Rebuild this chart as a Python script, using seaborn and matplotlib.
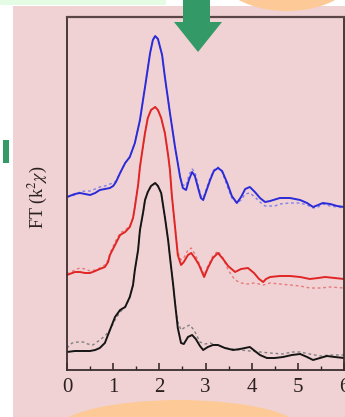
import matplotlib
matplotlib.use("Agg")
from matplotlib import pyplot as plt
from matplotlib.patches import Rectangle, Ellipse, Polygon
from matplotlib.ticker import MultipleLocator
import seaborn as sns

# R (Angstrom) and FT magnitude (arbitrary units)
r_blue = [0.00, 0.17, 0.28, 0.39, 0.50, 0.61, 0.71, 0.82, 0.93, 1.00, 1.06, 1.15, 1.26, 1.36, 1.47, 1.58, 1.69, 1.80, 1.86, 1.91,
          1.97, 2.06, 2.12, 2.23, 2.34, 2.45, 2.51, 2.58, 2.64, 2.71, 2.77, 2.84, 2.90, 2.95, 3.01, 3.10, 3.18, 3.27, 3.36, 3.47,
          3.57, 3.68, 3.77, 3.86, 3.96, 4.07, 4.18, 4.29, 4.40, 4.61, 4.83, 5.05, 5.20, 5.33, 5.44, 5.54, 5.70, 5.85, 6.00]
ft_blue = [17.3, 17.6, 17.7, 17.6, 17.5, 17.7, 18.0, 18.1, 18.2, 18.4, 18.8, 19.7, 20.7, 21.3, 22.7, 25.0, 28.3, 31.7, 33.0, 33.4,
           33.1, 31.5, 29.3, 25.7, 22.3, 19.3, 18.2, 18.0, 19.0, 19.8, 19.4, 18.2, 17.2, 17.0, 17.8, 19.0, 19.9, 20.2, 19.9, 18.7,
           17.4, 16.7, 17.3, 18.1, 18.3, 17.8, 17.2, 16.8, 16.9, 17.2, 17.2, 17.0, 16.7, 16.3, 16.5, 16.7, 16.6, 16.4, 16.3]

r_blue_fit = [0.00, 0.17, 0.28, 0.39, 0.50, 0.61, 0.71, 0.82, 0.93, 1.00, 1.06, 1.15, 1.26, 1.36, 1.47, 1.58, 1.69, 1.80, 1.86, 1.91,
              1.97, 2.06, 2.12, 2.23, 2.34, 2.45, 2.51, 2.58, 2.64, 2.71, 2.77, 2.84, 2.90, 2.95, 3.01, 3.10, 3.18, 3.27, 3.36, 3.47,
              3.57, 3.68, 3.77, 3.86, 3.96, 4.07, 4.18, 4.29, 4.40, 4.50, 4.61, 4.83, 5.05, 5.20, 5.33, 5.44, 5.54, 5.70, 5.85, 6.00]
ft_blue_fit = [17.3, 17.5, 17.8, 17.9, 17.9, 18.1, 18.3, 18.4, 18.6, 18.7, 18.9, 19.7, 20.7, 21.3, 22.7, 25.0, 28.3, 31.7, 33.0, 33.4,
               33.1, 31.5, 29.3, 25.7, 22.3, 19.3, 18.5, 18.4, 19.5, 20.1, 19.8, 18.5, 17.4, 17.2, 18.0, 19.2, 20.0, 20.3, 19.8, 18.4,
               17.2, 16.7, 17.0, 17.6, 17.7, 17.3, 16.8, 16.4, 16.4, 16.4, 16.6, 16.7, 16.7, 16.5, 16.2, 16.3, 16.6, 16.4, 16.3, 16.2]

r_red = [0.00, 0.17, 0.28, 0.39, 0.50, 0.61, 0.71, 0.82, 0.89, 0.93, 1.04, 1.15, 1.26, 1.36, 1.43, 1.47, 1.54, 1.58, 1.65, 1.69,
         1.75, 1.82, 1.91, 1.97, 2.04, 2.12, 2.19, 2.23, 2.27, 2.34, 2.40, 2.47, 2.53, 2.62, 2.69, 2.77, 2.86, 2.97, 3.05, 3.16,
         3.27, 3.38, 3.49, 3.64, 3.77, 3.92, 4.05, 4.16, 4.25, 4.31, 4.40, 4.61, 4.83, 5.05, 5.26, 5.44, 5.59, 5.80, 6.00]
ft_red = [9.5, 9.8, 9.8, 9.7, 9.7, 9.9, 10.1, 10.3, 10.8, 11.5, 12.5, 13.5, 13.8, 14.3, 15.2, 16.3, 18.5, 20.3, 22.5, 23.7,
          25.2, 26.0, 26.3, 26.0, 25.2, 23.7, 21.5, 20.0, 17.5, 14.3, 11.5, 10.5, 10.8, 11.5, 11.7, 11.2, 10.5, 9.3, 10.2, 11.2,
          11.7, 11.1, 10.4, 9.8, 10.1, 10.2, 9.7, 9.1, 8.8, 9.1, 9.3, 9.4, 9.4, 9.3, 9.1, 9.2, 9.3, 9.2, 9.1]

r_red_fit = [0.00, 0.17, 0.28, 0.39, 0.50, 0.61, 0.71, 0.82, 0.89, 0.93, 1.04, 1.15, 1.26, 1.36, 1.43, 1.47, 1.54, 1.58, 1.65, 1.69,
             1.75, 1.82, 1.91, 1.97, 2.04, 2.12, 2.19, 2.23, 2.27, 2.34, 2.40, 2.47, 2.53, 2.62, 2.69, 2.77, 2.86, 2.97, 3.05, 3.16,
             3.27, 3.38, 3.49, 3.64, 3.77, 3.92, 4.05, 4.16, 4.25, 4.40, 4.61, 4.83, 5.05, 5.26, 5.48, 5.70, 6.00]
ft_red_fit = [9.6, 10.0, 10.2, 10.1, 9.9, 10.0, 10.2, 10.5, 11.0, 11.7, 12.8, 13.7, 14.0, 14.4, 15.2, 16.3, 18.5, 20.3, 22.5, 23.7,
              25.2, 26.0, 26.3, 26.0, 25.2, 23.7, 21.5, 20.0, 17.5, 14.3, 11.8, 11.0, 11.2, 12.0, 12.2, 11.6, 10.7, 9.5, 10.4, 11.4,
              11.9, 11.2, 10.0, 9.0, 8.7, 8.6, 8.7, 8.6, 8.5, 8.7, 8.6, 8.5, 8.4, 8.2, 8.2, 8.3, 8.2]

r_black = [0.00, 0.17, 0.28, 0.50, 0.61, 0.71, 0.82, 0.93, 1.04, 1.15, 1.26, 1.36, 1.43, 1.47, 1.54, 1.58, 1.65, 1.69, 1.75, 1.82,
           1.91, 1.97, 2.04, 2.12, 2.19, 2.23, 2.30, 2.34, 2.40, 2.47, 2.53, 2.62, 2.71, 2.79, 2.88, 2.95, 3.05, 3.16, 3.27, 3.42,
           3.60, 3.75, 3.96, 4.07, 4.18, 4.33, 4.50, 4.68, 4.87, 5.05, 5.20, 5.33, 5.48, 5.63, 5.80, 6.00]
ft_black = [1.8, 1.9, 1.9, 1.9, 2.0, 2.2, 2.7, 4.0, 5.3, 6.0, 6.3, 7.3, 8.5, 10.0, 12.0, 14.0, 15.8, 17.0, 17.8, 18.4,
            18.7, 18.4, 17.7, 15.3, 13.0, 11.3, 8.5, 6.7, 4.2, 2.7, 2.6, 3.3, 3.5, 3.1, 2.4, 2.0, 2.3, 2.5, 2.5, 2.2,
            2.0, 2.1, 2.3, 1.9, 1.5, 1.2, 1.2, 1.3, 1.5, 1.6, 1.3, 1.0, 1.2, 1.4, 1.3, 1.2]

r_black_fit = [0.00, 0.11, 0.24, 0.35, 0.45, 0.56, 0.65, 0.71, 0.82, 0.93, 1.04, 1.15, 1.26, 1.36, 1.43, 1.47, 1.54, 1.58, 1.65, 1.69,
               1.75, 1.82, 1.91, 1.97, 2.04, 2.12, 2.19, 2.23, 2.30, 2.34, 2.40, 2.47, 2.56, 2.66, 2.75, 2.88, 2.99, 3.10, 3.25, 3.42,
               3.60, 3.75, 3.96, 4.18, 4.40, 4.68, 4.87, 5.05, 5.26, 5.48, 5.70, 6.00]
ft_black_fit = [2.2, 2.7, 2.8, 2.8, 2.6, 2.5, 2.8, 3.0, 3.4, 4.0, 5.0, 5.8, 6.3, 7.3, 8.5, 10.0, 12.0, 14.0, 15.8, 17.0,
                17.8, 18.4, 18.7, 18.4, 17.7, 15.3, 13.0, 11.3, 8.5, 6.7, 4.8, 4.0, 4.3, 4.5, 4.0, 2.8, 2.6, 2.7, 2.5, 2.2,
                2.1, 2.0, 1.9, 1.8, 1.7, 1.6, 1.8, 1.8, 1.6, 1.4, 1.5, 1.5]

x_ticks = [0, 1, 2, 3, 4, 5, 6]

PINK = "#f0d2d4"
sns.set_style("ticks")
plt.rcParams["font.family"] = ["Liberation Serif", "DejaVu Serif"]
plt.rcParams["mathtext.fontset"] = "stix"

fig = plt.figure(figsize=(3.45, 4.17), dpi=100, facecolor="white")
W, H = 345.0, 417.0

# slide decorations around the figure (kept below the axes)
fig.patches.append(Rectangle((13 / W, 0), 1 - 13 / W, 1 - 6 / H, transform=fig.transFigure,
                             facecolor=PINK, edgecolor="none", zorder=-3))
fig.patches.append(Rectangle((0, 1 - 5 / H), 166 / W, 5 / H, transform=fig.transFigure,
                             facecolor="#e4fbe4", edgecolor="none", zorder=-2))
fig.patches.append(Ellipse((287 / W, 1 + 29 / H), 140 / W, 80 / H, transform=fig.transFigure,
                           facecolor="#fdca97", edgecolor="none", zorder=-2))
fig.patches.append(Ellipse((179 / W, -15 / H), 250 / W, 64 / H, transform=fig.transFigure,
                           facecolor="#fdca97", edgecolor="none", zorder=-2))
fig.patches.append(Rectangle((3 / W, 1 - 163 / H), 6 / W, 23 / H, transform=fig.transFigure,
                             facecolor="#339966", edgecolor="none", zorder=-2))

ax = fig.add_axes([67 / W, 47 / H, 277 / W, 353 / H])
ax.set_facecolor(PINK)

sns.lineplot(x=r_blue_fit, y=ft_blue_fit, color="#8080e6", linestyle=(0, (2, 2)), linewidth=1.0, sort=False, ax=ax)
sns.lineplot(x=r_blue, y=ft_blue, color="#2b2bd8", linewidth=1.4, sort=False, ax=ax)
sns.lineplot(x=r_red_fit, y=ft_red_fit, color="#e67a7a", linestyle=(0, (2, 2)), linewidth=1.0, sort=False, ax=ax)
sns.lineplot(x=r_red, y=ft_red, color="#e02525", linewidth=1.4, sort=False, ax=ax)
sns.lineplot(x=r_black_fit, y=ft_black_fit, color="#808080", linestyle=(0, (2, 2)), linewidth=1.0, sort=False, ax=ax)
sns.lineplot(x=r_black, y=ft_black, color="#151515", linewidth=1.4, sort=False, ax=ax)

ax.set_xlim(0, 6)
ax.set_ylim(0, 35.3)
ax.set_xticks(x_ticks)
ax.xaxis.set_minor_locator(MultipleLocator(0.5))
ax.set_yticks([])
ax.tick_params(axis="x", which="major", direction="in", length=5, width=1.1, pad=6,
               labelsize=15, colors="#2a2020")
ax.tick_params(axis="x", which="minor", direction="in", length=3, width=1.0)
for side in ["left", "bottom", "right", "top"]:
    ax.spines[side].set_color("#3a2e2e")
    ax.spines[side].set_linewidth(1.3)
ax.spines["top"].set_color("#5a4646")
ax.spines["top"].set_linewidth(1.6)

ax.set_xlabel("")
ax.set_ylabel(r"FT (k$^{2}$$\chi$)", fontsize=13, color="#2a2020")
ax.yaxis.set_label_coords(-0.06, 0.49)

# arrow on top of the slide
fig.patches.append(Polygon([(183 / W, 1), (210 / W, 1), (210 / W, 1 - 22 / H), (222 / W, 1 - 22 / H),
                            (198 / W, 1 - 52 / H), (174 / W, 1 - 22 / H), (183 / W, 1 - 22 / H)],
                           closed=True, transform=fig.transFigure, facecolor="#339966",
                           edgecolor="none", zorder=5))

fig.savefig("out.png", dpi=100, facecolor=fig.get_facecolor())
